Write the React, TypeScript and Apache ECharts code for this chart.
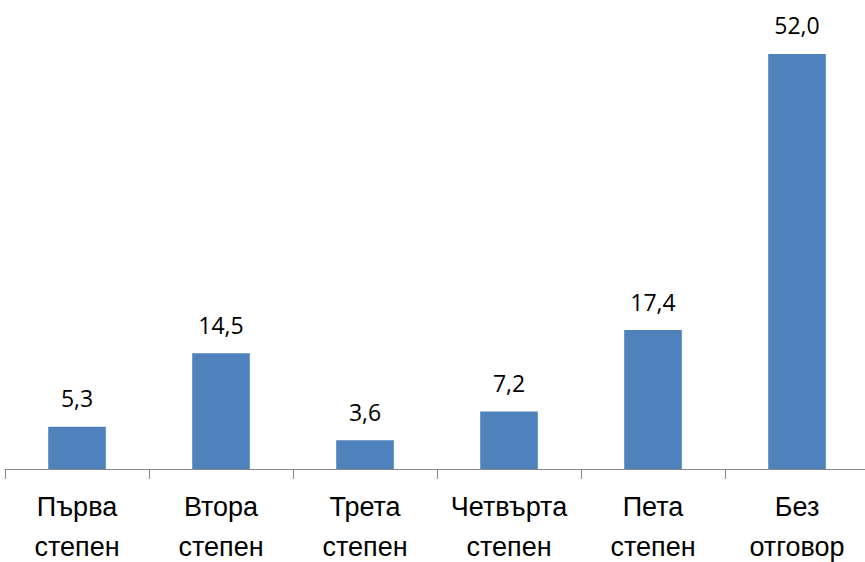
import React, { useEffect, useRef } from "react";
import * as echarts from "echarts";

const categories = ["Първа\nстепен", "Втора\nстепен", "Трета\nстепен", "Четвърта\nстепен", "Пета\nстепен", "Без\nотговор"];
const values = [5.3, 14.5, 3.6, 7.2, 17.4, 52.0];

export default function App() {
  const ref = useRef<HTMLDivElement>(null);
  useEffect(() => {
    document.body.style.margin = "0";
    const chart = echarts.init(ref.current!, null, { renderer: "svg" });
    chart.setOption({
      animation: false,
      grid: { left: 5, right: -4, top: 6, bottom: 93, containLabel: false, outerBoundsMode: "none" },
      xAxis: {
        type: "category",
        data: categories,
        boundaryGap: true,
        axisLine: { show: true, lineStyle: { color: "#868686", width: 1 } },
        axisTick: { show: true, length: 10, lineStyle: { color: "#868686" } },
        axisLabel: {
          interval: 0,
          margin: 18,
          fontFamily: "Liberation Sans",
          fontSize: 27,
          lineHeight: 40,
          color: "#000",
        },
      },
      yAxis: { type: "value", min: 0, max: 58, show: false, splitLine: { show: false } },
      series: [
        {
          type: "bar",
          data: values,
          barWidth: "40%",
          itemStyle: { color: "#4F81BD" },
          label: {
            show: true,
            position: "top",
            distance: 17,
            fontFamily: "Open Sans",
            fontSize: 23,
            color: "#000",
            formatter: (p: any) => p.value.toFixed(1).replace(".", ","),
          },
        },
      ],
    });
    return () => chart.dispose();
  }, []);
  return <div ref={ref} style={{ width: 865, height: 562 }} />;
}
